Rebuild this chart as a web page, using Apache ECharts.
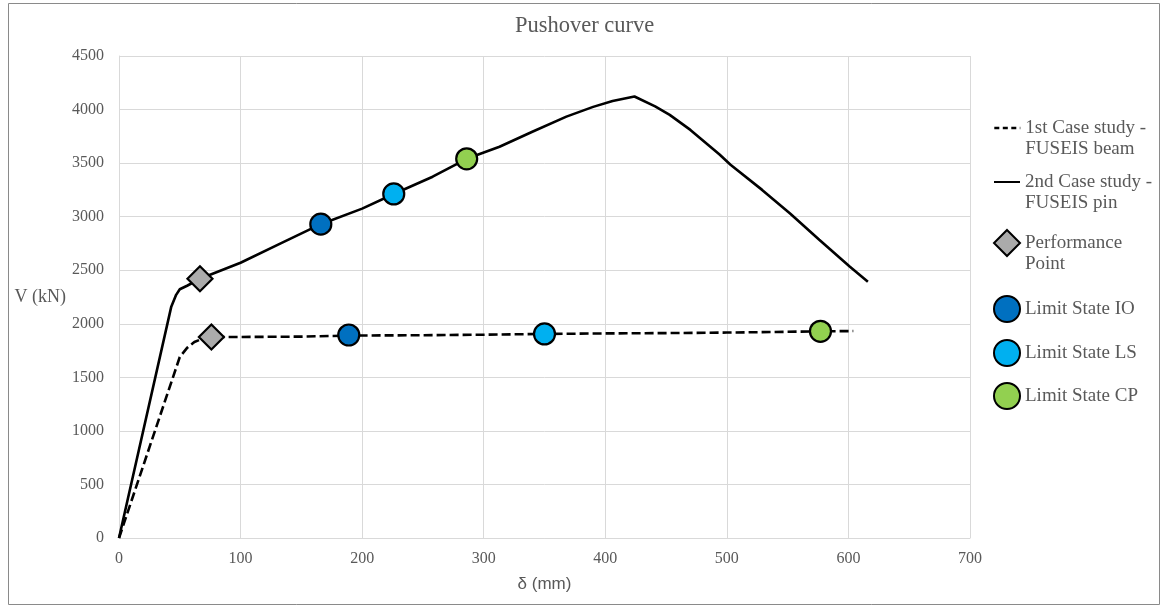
<!DOCTYPE html>
<html>
<head>
<meta charset="utf-8">
<script src="https://cdn.jsdelivr.net/npm/echarts@6/dist/echarts.min.js"></script>
<style>
html,body{margin:0;padding:0;background:#fff;}
#chart{width:1161px;height:608px;}
</style>
</head>
<body>
<div id="chart"></div>
<script>
// ---- data ----
const xTicks = [0, 100, 200, 300, 400, 500, 600, 700];
const yTicks = [0, 500, 1000, 1500, 2000, 2500, 3000, 3500, 4000, 4500];

// 1st case study - FUSEIS beam (dashed)
const beamDisp  = [0, 50, 56, 62, 68, 76, 100, 150, 189, 250, 300, 350, 400, 450, 500, 550, 577, 604];
const beamShear = [0, 1690, 1775, 1830, 1858, 1875, 1877, 1880, 1890, 1893, 1898, 1905, 1910, 1913, 1918, 1925, 1930, 1932];

// 2nd case study - FUSEIS pin (solid)
const pinDisp  = [0, 43, 47, 50, 56, 66.6, 100, 133, 166, 200, 226, 258, 286, 313, 340, 368, 390, 406, 424, 441, 453, 470, 494, 503, 529, 552, 576, 601, 616];
const pinShear = [0, 2160, 2270, 2322, 2355, 2420, 2570, 2750, 2930, 3075, 3212, 3373, 3540, 3653, 3793, 3934, 4025, 4080, 4122, 4030, 3950, 3810, 3580, 3485, 3250, 3030, 2785, 2535, 2393];

// markers: [beam, pin]
const perfDisp = [76, 66.6],  perfShear = [1877, 2420];
const ioDisp   = [189, 166],  ioShear   = [1895, 2930];
const lsDisp   = [350, 226],  lsShear   = [1905, 3212];
const cpDisp   = [577, 286],  cpShear   = [1930, 3540];

const names = {
  beam: '1st Case study - FUSEIS beam',
  pin: '2nd Case study - FUSEIS pin',
  perf: 'Performance Point',
  io: 'Limit State IO',
  ls: 'Limit State LS',
  cp: 'Limit State CP'
};
const legendText = {
  beam: '\n1st Case study -\nFUSEIS beam',
  pin: '\n2nd Case study -\nFUSEIS pin',
  perf: '\nPerformance\nPoint',
  io: 'Limit State IO',
  ls: 'Limit State LS',
  cp: 'Limit State CP'
};

const zip = (a, b) => a.map((v, i) => [v, b[i]]);
const serif = '"Liberation Serif", "Times New Roman", serif';
const grey = '#595959';

function legendFor(key, iconCenterY, twoLines, isLine, dashed) {
  const lh = 21.5;
  const itemH = isLine ? 24 : 26;
  const textH = twoLines ? lh * 3 : lh;
  const top = twoLines ? iconCenterY - textH / 2 : iconCenterY - itemH / 2;
  const lg = {
    data: [names[key]],
    left: 993,
    top: top,
    padding: 0,
    itemWidth: 26,
    itemHeight: itemH,
    formatter: () => legendText[key],
    textStyle: {fontFamily: serif, fontSize: 19, color: grey, lineHeight: lh},
    selectedMode: false
  };
  if (isLine) {
    lg.left = 993;
    lg.itemStyle = {color: 'rgba(0,0,0,0)', borderColor: 'rgba(0,0,0,0)', borderWidth: 0, opacity: 0};
    if (dashed) lg.lineStyle = {type: [5, 3.5], width: 2.6};
  }
  return lg;
}

const chart = echarts.init(document.getElementById('chart'), null, {renderer: 'canvas'});
chart.setOption({
  animation: false,
  backgroundColor: '#fff',
  title: {
    text: 'Pushover curve',
    left: 515,
    top: 13,
    padding: [2, 0, 2, 0],
    textStyle: {fontFamily: serif, fontSize: 22.5, fontWeight: 'normal', color: grey}
  },
  graphic: [{
    type: 'rect',
    shape: {x: 8.5, y: 3.5, width: 1151, height: 601},
    style: {fill: 'none', stroke: '#8a8a8a', lineWidth: 1},
    silent: true
  }],
  grid: {left: 119, right: 191, top: 56, bottom: 70, containLabel: false},
  legend: [
    legendFor('beam', 128, true, true, true),
    legendFor('pin', 182, true, true, false),
    legendFor('perf', 243, true, false),
    legendFor('io', 308, false, false),
    legendFor('ls', 352, false, false),
    legendFor('cp', 395, false, false)
  ],
  xAxis: {
    type: 'value', min: xTicks[0], max: xTicks[xTicks.length - 1], interval: 100,
    name: 'δ (mm)', nameLocation: 'middle', nameGap: 38,
    nameTextStyle: {fontFamily: '"Liberation Sans", Arial, sans-serif', fontSize: 17, color: grey},
    axisLine: {lineStyle: {color: '#d9d9d9'}},
    axisTick: {show: false},
    axisLabel: {fontFamily: serif, fontSize: 16, color: grey, margin: 13, formatter: v => String(v)},
    splitLine: {lineStyle: {color: '#d9d9d9'}}
  },
  yAxis: {
    type: 'value', min: yTicks[0], max: yTicks[yTicks.length - 1], interval: 500,
    name: 'V (kN)', nameLocation: 'middle', nameGap: 53, nameRotate: 0,
    nameTextStyle: {fontFamily: serif, fontSize: 18, color: grey, align: 'right'},
    axisLine: {show: true, lineStyle: {color: '#d9d9d9'}},
    axisTick: {show: false},
    axisLabel: {fontFamily: serif, fontSize: 16, color: grey, margin: 15, formatter: v => String(v)},
    splitLine: {lineStyle: {color: '#d9d9d9'}}
  },
  series: [
    {
      name: names.beam, type: 'line', data: zip(beamDisp, beamShear),
      symbol: 'none', smooth: false, z: 2,
      lineStyle: {color: '#000', width: 2.6, type: [9, 4]},
      itemStyle: {color: '#000'}
    },
    {
      name: names.pin, type: 'line', data: zip(pinDisp, pinShear),
      symbol: 'none', smooth: false, z: 2,
      lineStyle: {color: '#000', width: 2.6, type: 'solid'},
      itemStyle: {color: '#000'}
    },
    {
      name: names.perf, type: 'scatter', data: zip(perfDisp, perfShear),
      symbol: 'diamond', symbolSize: 25, z: 5,
      itemStyle: {color: '#ababab', borderColor: '#000', borderWidth: 2.2, opacity: 1}
    },
    {
      name: names.io, type: 'scatter', data: zip(ioDisp, ioShear),
      symbol: 'circle', symbolSize: 21, z: 5,
      itemStyle: {color: '#0070c0', borderColor: '#000', borderWidth: 2.2, opacity: 1}
    },
    {
      name: names.ls, type: 'scatter', data: zip(lsDisp, lsShear),
      symbol: 'circle', symbolSize: 21, z: 5,
      itemStyle: {color: '#00b0f0', borderColor: '#000', borderWidth: 2.2, opacity: 1}
    },
    {
      name: names.cp, type: 'scatter', data: zip(cpDisp, cpShear),
      symbol: 'circle', symbolSize: 21, z: 5,
      itemStyle: {color: '#92d050', borderColor: '#000', borderWidth: 2.2, opacity: 1}
    }
  ]
});
</script>
</body>
</html>
